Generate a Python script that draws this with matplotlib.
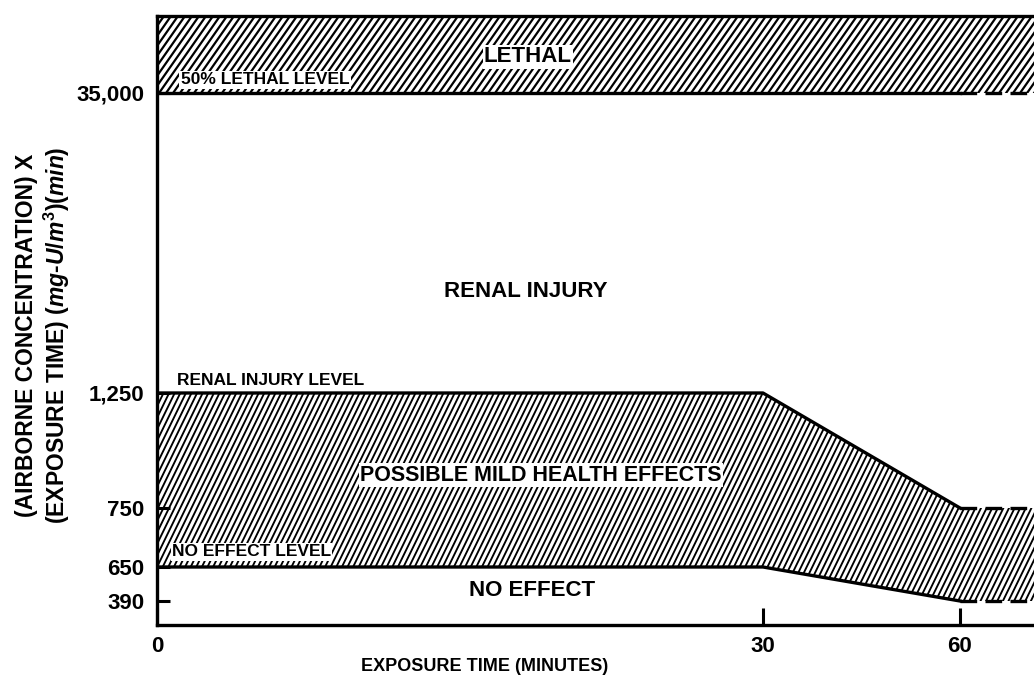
import numpy as np
import matplotlib.pyplot as plt
from matplotlib.collections import LineCollection

plt.rcParams['font.family'] = ['Liberation Sans', 'DejaVu Sans']
plt.rcParams['font.weight'] = 'bold'
plt.rcParams['axes.labelweight'] = 'bold'
plt.rcParams['mathtext.fontset'] = 'custom'
plt.rcParams['mathtext.rm'] = 'Liberation Sans:bold'
plt.rcParams['mathtext.it'] = 'Liberation Sans:italic:bold'
plt.rcParams['mathtext.default'] = 'regular'

# data
minutes = [0, 30, 60]
renal_injury_level = [1250, 1250, 750]
no_effect_level = [650, 650, 390]
lethal_level = 35000
x_ticks = [0, 30, 60]
y_ticks = [390, 650, 750, 1250, 35000]
y_tick_labels = ['390', '650', '750', '1,250', '35,000']

# the original is a schematic, not to scale: piecewise positions for the knots
x_knots, x_pos = [0, 30, 60], [0, 606, 803]
y_knots, y_pos = [0, 390, 650, 750, 1250, 35000], [0, 24, 58, 117, 232, 532]


def piecewise(v, xs, ys):
    v = np.asarray(v, dtype=float)
    lo = ys[0] + (v - xs[0]) * (ys[1] - ys[0]) / (xs[1] - xs[0])
    hi = ys[-1] + (v - xs[-1]) * (ys[-1] - ys[-2]) / (xs[-1] - xs[-2])
    return np.where(v < xs[0], lo, np.where(v > xs[-1], hi, np.interp(v, xs, ys)))


def hatch(ax, coll, spacing, angle, lw):
    # diagonal hatch at a chosen angle, clipped to a filled region
    W, H = 877, 609
    shift = H / np.tan(np.radians(angle))
    starts = np.arange(-shift, W, spacing)
    segs = [[(x0 / W, 0), ((x0 + shift) / W, 1)] for x0 in starts]
    lc = LineCollection(segs, transform=ax.transAxes, colors='black',
                        linewidths=lw, zorder=1.5)
    ax.add_collection(lc, autolim=False)
    lc.set_clip_path(coll.get_paths()[0], ax.transData)


fig = plt.figure(figsize=(10.34, 6.82), dpi=100)
ax = fig.add_axes([157 / 1034, 57 / 682, 877 / 1034, 609 / 682])
ax.set_xscale('function', functions=(lambda v: piecewise(v, x_knots, x_pos),
                                     lambda v: piecewise(v, x_pos, x_knots)))
ax.set_yscale('function', functions=(lambda v: piecewise(v, y_knots, y_pos),
                                     lambda v: piecewise(v, y_pos, y_knots)))
ax.set_xlim(0, float(piecewise(877, x_pos, x_knots)))
ax.set_ylim(0, float(piecewise(609, y_pos, y_knots)))
x_end = ax.get_xlim()[1]
y_top = ax.get_ylim()[1]

lw = 2.4
dash = (5, 2.5)

# lethal band
lethal = ax.fill_between([0, x_end], lethal_level, y_top, facecolor='white', linewidth=0)
hatch(ax, lethal, 7.0, 55, 1.6)
ax.plot([minutes[0], minutes[-1]], [lethal_level] * 2, color='black', lw=lw)
ax.plot([minutes[-1], x_end], [lethal_level] * 2, color='black', lw=lw, dashes=dash)

# possible mild health effects band
band_x = minutes + [x_end]
band_hi = renal_injury_level + [renal_injury_level[-1]]
band_lo = no_effect_level + [no_effect_level[-1]]
band = ax.fill_between(band_x, band_lo, band_hi, facecolor='white', linewidth=0)
hatch(ax, band, 5.6, 64, 1.35)
for level in (renal_injury_level, no_effect_level):
    ax.plot(minutes, level, color='black', lw=lw)
    ax.plot([minutes[-1], x_end], [level[-1]] * 2, color='black', lw=lw, dashes=dash)

box = dict(facecolor='white', edgecolor='none', pad=1)
ax.text(0.423, 0.933, 'LETHAL', transform=ax.transAxes, ha='center', va='center',
        fontsize=16, bbox=box)
ax.text(0.027, 0.895, '50% LETHAL LEVEL', transform=ax.transAxes, ha='left',
        va='center', fontsize=12.5, bbox=box)
ax.text(0.420, 0.547, 'RENAL INJURY', transform=ax.transAxes, ha='center',
        va='center', fontsize=16)
ax.text(0.023, 0.402, 'RENAL INJURY LEVEL', transform=ax.transAxes, ha='left',
        va='center', fontsize=12.5)
ax.text(0.438, 0.246, 'POSSIBLE MILD HEALTH EFFECTS', transform=ax.transAxes,
        ha='center', va='center', fontsize=15.5, bbox=box)
ax.text(0.017, 0.120, 'NO EFFECT LEVEL', transform=ax.transAxes, ha='left',
        va='center', fontsize=12.5, bbox=box)
ax.text(0.428, 0.056, 'NO EFFECT', transform=ax.transAxes, ha='center',
        va='center', fontsize=16)

ax.set_xticks(x_ticks)
ax.set_yticks(y_ticks, y_tick_labels)
ax.minorticks_off()
ax.tick_params(axis='y', direction='in', length=9, width=2.2, pad=9, labelsize=16)
ax.tick_params(axis='x', direction='in', length=12, width=2.2, pad=8, labelsize=16)

for side in ('left', 'bottom', 'top'):
    ax.spines[side].set_linewidth(lw)
ax.spines['right'].set_visible(False)

ax.set_xlabel('EXPOSURE TIME (MINUTES)', fontsize=13)
ax.xaxis.set_label_coords((485 - 157) / 877, -0.055)
ax.set_ylabel('(AIRBORNE CONCENTRATION) X\n'
              '(EXPOSURE TIME) $\\mathit{(mg}$-$\\mathit{U/m^3)(min)}$',
              fontsize=16.5, linespacing=1.15)
ax.yaxis.set_label_coords(-0.097, 0.475)

fig.savefig('out.png', dpi=100)
